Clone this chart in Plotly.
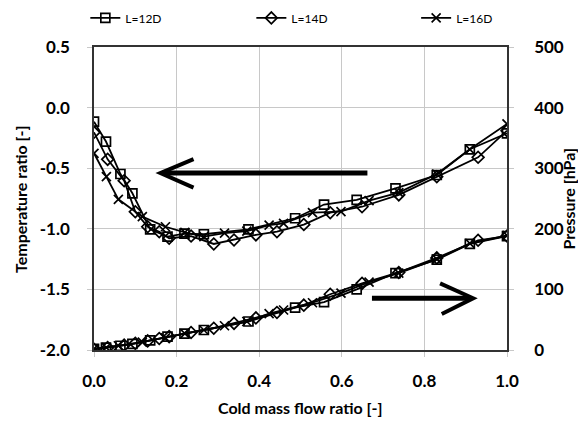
import plotly.graph_objects as go

# ---- data ----
x_12 = [0.0, 0.029, 0.064, 0.093, 0.136, 0.178, 0.219, 0.266, 0.374, 0.487, 0.557, 0.636, 0.73, 0.83, 0.91, 1.0]
t_12 = [-0.116, -0.28, -0.548, -0.707, -1.004, -1.065, -1.04, -1.045, -1.004, -0.913, -0.80, -0.762, -0.666, -0.556, -0.344, -0.212]
p_12 = [2, 4, 7, 10, 16, 22, 27, 33, 47, 70, 79, 100, 127, 149, 175, 188]

x_14 = [0.0, 0.033, 0.073, 0.10, 0.13, 0.158, 0.182, 0.235, 0.29, 0.339, 0.392, 0.443, 0.508, 0.572, 0.649, 0.738, 0.83, 0.93, 1.0]
t_14 = [-0.204, -0.427, -0.603, -0.859, -0.983, -1.024, -1.078, -1.06, -1.125, -1.092, -1.05, -1.024, -0.965, -0.867, -0.818, -0.72, -0.57, -0.41, -0.19]
p_14 = [1, 4, 8, 11, 15, 19, 22, 29, 36, 44, 53, 62, 74, 92, 110, 128, 152, 181, 188]

x_16 = [0.0, 0.03, 0.059, 0.117, 0.173, 0.22, 0.266, 0.316, 0.37, 0.424, 0.459, 0.529, 0.598, 0.666, 0.738, 0.83, 0.91, 1.0]
t_16 = [-0.377, -0.57, -0.757, -0.90, -0.983, -1.03, -1.065, -1.035, -1.02, -0.97, -0.955, -0.867, -0.859, -0.768, -0.702, -0.548, -0.344, -0.135]
p_16 = [2, 4, 7, 13, 20, 27, 33, 40, 47, 60, 66, 78, 94, 112, 127, 150, 176, 189]

names = ["L=12D", "L=14D", "L=16D"]
symbols = ["square-open", "diamond-open", "x-thin-open"]
legend_ids = ["legend", "legend2", "legend3"]

x_ticks = [0.0, 0.2, 0.4, 0.6, 0.8, 1.0]
x_tick_text = ["0.0", "0.2", "0.4", "0.6", "0.8", "1.0"]
y_ticks = [0.5, 0.0, -0.5, -1.0, -1.5, -2.0]
y_tick_text = ["0.5", "0.0", "-0.5", "-1.0", "-1.5", "-2.0"]
y2_ticks = [0, 100, 200, 300, 400, 500]
y2_tick_text = ["0", "100", "200", "300", "400", "500"]

x_title = "Cold mass flow ratio [-]"
y_title = "Temperature ratio [-]"
y2_title = "Pressure [hPa]"

FONT = "Lato"
TICK_SIZE = 17
TITLE_SIZE = 16

def bold(lst):
    return ["<b>%s</b>" % s for s in lst]

fig = go.Figure()
series = [(x_12, t_12, p_12), (x_14, t_14, p_14), (x_16, t_16, p_16)]
for (xs, ts, ps), name, sym, lg in zip(series, names, symbols, legend_ids):
    mk = dict(symbol=sym, size=9, color="black", line=dict(color="black", width=1.7))
    fig.add_trace(go.Scatter(x=xs, y=ts, mode="lines+markers", name=name,
                             line=dict(color="black", width=1.8), marker=mk,
                             legendgroup=name, showlegend=True, legend=lg))
    fig.add_trace(go.Scatter(x=xs, y=ps, mode="lines+markers", name=name,
                             line=dict(color="black", width=1.8), marker=mk,
                             legendgroup=name, showlegend=False, yaxis="y2", legend=lg))

# arrows (layout shapes in axis coordinates)
arrow_line = dict(color="black", width=5)
head_line = dict(color="black", width=4)
fig.add_shape(type="line", x0=0.165, y0=-0.54, x1=0.662, y1=-0.54, xref="x", yref="y", line=arrow_line)
fig.add_shape(type="path", path="M 0.241,-0.425 L 0.161,-0.54 L 0.241,-0.66", xref="x", yref="y", line=head_line)
fig.add_shape(type="line", x0=0.673, y0=-1.573, x1=0.913, y1=-1.573, xref="x", yref="y", line=arrow_line)
fig.add_shape(type="path", path="M 0.838,-1.45 L 0.918,-1.573 L 0.842,-1.703", xref="x", yref="y", line=head_line)

# axis titles as annotations for exact placement
fig.add_annotation(text="<b>%s</b>" % y_title, xref="paper", yref="paper", x=-0.178, y=0.5,
                   textangle=-90, showarrow=False, xanchor="center", yanchor="middle",
                   font=dict(size=TITLE_SIZE, family=FONT, color="black"))
fig.add_annotation(text="<b>%s</b>" % y2_title, xref="paper", yref="paper", x=1.148, y=0.5,
                   textangle=-90, showarrow=False, xanchor="center", yanchor="middle",
                   font=dict(size=TITLE_SIZE, family=FONT, color="black"))
fig.add_annotation(text="<b>%s</b>" % x_title, xref="paper", yref="paper", x=0.5, y=-0.19,
                   showarrow=False, xanchor="center", yanchor="middle",
                   font=dict(size=TITLE_SIZE, family=FONT, color="black"))

leg_common = dict(orientation="h", yanchor="middle", xanchor="left", y=1.096,
                  font=dict(size=12, family=FONT), itemwidth=30, bgcolor="rgba(0,0,0,0)")

fig.update_layout(
    width=586, height=423,
    margin=dict(l=85.5, r=87, t=39, b=81, autoexpand=False),
    paper_bgcolor="white", plot_bgcolor="white",
    font=dict(family=FONT, color="black"),
    showlegend=True,
    legend=dict(x=-0.021, **leg_common),
    legend2=dict(x=0.381, **leg_common),
    legend3=dict(x=0.78, **leg_common),
    xaxis=dict(range=[0, 1.0], tickvals=x_ticks, ticktext=bold(x_tick_text), automargin=False,
               showgrid=True, gridcolor="#c8c8c8", gridwidth=1,
               showline=True, linecolor="#333", linewidth=1.5, mirror=True,
               ticks="outside", ticklen=5, tickcolor="#c8c8c8", ticklabelstandoff=10,
               tickfont=dict(size=TICK_SIZE, family=FONT), zeroline=False),
    yaxis=dict(range=[-2.0, 0.5], tickvals=y_ticks, ticktext=bold(y_tick_text), automargin=False,
               showgrid=True, gridcolor="#c8c8c8", gridwidth=1,
               showline=True, linecolor="#333", linewidth=1.5, mirror=True,
               ticks="outside", ticklen=5, tickcolor="#c8c8c8", ticklabelstandoff=14,
               tickfont=dict(size=TICK_SIZE, family=FONT), zeroline=False),
    yaxis2=dict(range=[0, 500], tickvals=y2_ticks, ticktext=bold(y2_tick_text), overlaying="y", side="right",
                automargin=False,
                showgrid=False, showline=True, linecolor="#333", linewidth=1.5,
                ticks="outside", ticklen=5, tickcolor="#c8c8c8", ticklabelstandoff=17,
                tickfont=dict(size=TICK_SIZE, family=FONT), zeroline=False),
)

fig.write_html("out.html")
